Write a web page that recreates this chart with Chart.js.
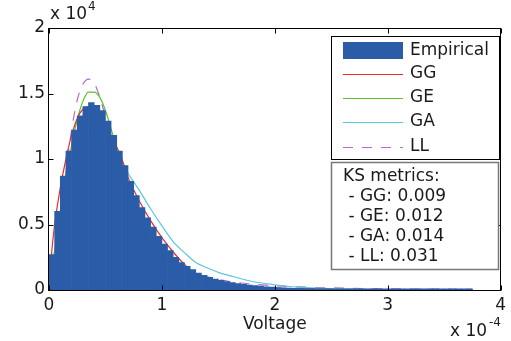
<!DOCTYPE html>
<html>
<head>
<meta charset="utf-8">
<script src="https://cdn.jsdelivr.net/npm/chart.js@4.4.1/dist/chart.umd.min.js"></script>
<style>
  html, body { margin: 0; padding: 0; background: #fff; }
  #chart { display: block; }
</style>
</head>
<body>
<canvas id="chart" width="511" height="341"></canvas>
<script>
// voltage in units of 1e-4, counts in units of 1e4
const binWidth = 0.05;
const histCounts = [
  0.27, 0.60, 0.87, 1.06, 1.22, 1.33, 1.40, 1.43, 1.41, 1.37,
  1.29, 1.18, 1.06, 0.95, 0.83, 0.72, 0.63, 0.55, 0.48, 0.41,
  0.35, 0.30, 0.25, 0.21, 0.18, 0.155, 0.13, 0.112, 0.097, 0.084,
  0.073, 0.064, 0.056, 0.049, 0.043, 0.038, 0.033, 0.029, 0.025, 0.022,
  0.019, 0.017, 0.015, 0.013, 0.012, 0.011, 0.010, 0.009, 0.009, 0.008,
  0.008, 0.008, 0.008, 0.008, 0.008, 0.008, 0.008, 0.008, 0.008, 0.008,
  0.008, 0.008, 0.008, 0.008, 0.008, 0.008, 0.008, 0.008, 0.008, 0.008,
  0.008, 0.008, 0.008, 0.008, 0.008
];

const fitX = [0, 0.025, 0.05, 0.1, 0.15, 0.2, 0.25, 0.3, 0.35, 0.4, 0.45, 0.5, 0.55, 0.6, 0.65, 0.7,
              0.8, 0.9, 1.0, 1.1, 1.2, 1.3, 1.4, 1.5, 1.6, 1.8, 2.0, 2.2, 2.5, 3.0, 3.75];
const ggFit = [0, 0.30, 0.50, 0.78, 1.00, 1.18, 1.31, 1.38, 1.40, 1.38, 1.33, 1.26, 1.18, 1.09, 0.99, 0.86,
               0.68, 0.53, 0.40, 0.29, 0.195, 0.125, 0.09, 0.065, 0.05, 0.025, 0.014, 0.008, 0.004, 0.001, 0];
const geFit = [0.12, 0.20, 0.30, 0.56, 0.88, 1.10, 1.30, 1.44, 1.51, 1.51, 1.47, 1.37, 1.23, 1.09, 0.97, 0.83,
               0.60, 0.42, 0.32, 0.23, 0.17, 0.12, 0.08, 0.06, 0.045, 0.025, 0.015, 0.010, 0.005, 0.002, 0];
const gaFit = [0, 0.10, 0.22, 0.45, 0.72, 0.92, 1.06, 1.16, 1.21, 1.22, 1.20, 1.16, 1.10, 1.03, 0.96, 0.89,
               0.76, 0.62, 0.49, 0.37, 0.285, 0.21, 0.17, 0.135, 0.11, 0.065, 0.04, 0.022, 0.01, 0.003, 0];
const llFit = [0, 0.05, 0.15, 0.50, 0.90, 1.22, 1.45, 1.57, 1.61, 1.58, 1.47, 1.32, 1.15, 1.00, 0.86, 0.73,
               0.52, 0.37, 0.27, 0.21, 0.16, 0.13, 0.10, 0.08, 0.065, 0.045, 0.033, 0.024, 0.016, 0.009, 0.005];

const seriesNames = ['Empirical', 'GG', 'GE', 'GA', 'LL'];
const ksNames = ['GG', 'GE', 'GA', 'LL'];
const ksValues = ['0.009', '0.012', '0.014', '0.031'];
const xTicks = [0, 1, 2, 3, 4];
const yTicks = [0, 0.5, 1, 1.5, 2];

const FONT = '"DejaVu Sans", sans-serif';
const TXT = '#1a1a1a';

const histData = histCounts.map((v, i) => ({ x: binWidth / 2 + i * binWidth, y: v }));
const fitData = arr => arr.map((v, i) => ({ x: fitX[i], y: v }));

function lineSet(label, values, color, dash) {
  return {
    type: 'line',
    label: label,
    data: fitData(values),
    borderColor: color,
    backgroundColor: color,
    borderWidth: 1.2,
    borderDash: dash || [],
    pointRadius: 0,
    cubicInterpolationMode: 'monotone',
    fill: false
  };
}

const framePlugin = {
  id: 'frame',
  afterDraw(chart) {
    const { ctx, chartArea: a, scales: { x, y } } = chart;
    ctx.save();
    ctx.strokeStyle = '#000';
    ctx.lineWidth = 1;
    const L = Math.round(a.left) - 0.5, R = Math.round(a.right) - 0.5;
    const T = Math.round(a.top) + 0.5, B = Math.round(a.bottom) + 0.5;
    ctx.strokeRect(L, T, R - L, B - T);
    ctx.beginPath();
    xTicks.forEach(t => {
      const px = Math.round(x.getPixelForValue(t)) + 0.5;
      ctx.moveTo(px, B); ctx.lineTo(px, B - 5);
      ctx.moveTo(px, T); ctx.lineTo(px, T + 5);
    });
    yTicks.forEach(t => {
      const py = Math.round(y.getPixelForValue(t)) + 0.5;
      ctx.moveTo(L, py); ctx.lineTo(L + 5, py);
      ctx.moveTo(R, py); ctx.lineTo(R - 5, py);
    });
    ctx.stroke();

    // exponent labels
    ctx.fillStyle = TXT;
    ctx.textBaseline = 'middle';
    ctx.textAlign = 'left';
    ctx.font = '17px ' + FONT;
    ctx.fillText('x 10', 50, 15);
    ctx.fillText('x 10', 450, 332);
    ctx.font = '12px ' + FONT;
    ctx.fillText('4', 88, 7);
    ctx.fillText('-4', 489, 323);

    // legend box
    const ds = chart.data.datasets;
    ctx.fillStyle = '#fff';
    ctx.fillRect(331, 36, 169, 123);
    ctx.strokeStyle = '#000';
    ctx.strokeRect(331.5, 36.5, 168, 123);
    const rows = [51, 74, 98, 122, 147];
    ds.forEach((d, i) => {
      const cy = rows[i];
      if (i === 0) {
        ctx.fillStyle = d.backgroundColor;
        ctx.fillRect(343, 42, 60, 17);
      } else {
        ctx.strokeStyle = d.borderColor;
        ctx.lineWidth = 1.2;
        ctx.setLineDash(d.borderDash);
        ctx.beginPath();
        ctx.moveTo(343, cy + 0.5);
        ctx.lineTo(403, cy + 0.5);
        ctx.stroke();
        ctx.setLineDash([]);
      }
      ctx.fillStyle = TXT;
      ctx.font = '17px ' + FONT;
      ctx.fillText(d.label, 410, cy);
    });

    // KS metrics box
    ctx.fillStyle = '#fff';
    ctx.fillRect(331, 162, 168, 108);
    ctx.strokeStyle = '#777';
    ctx.lineWidth = 1.5;
    ctx.strokeRect(331.5, 162.5, 167, 107);
    ctx.fillStyle = TXT;
    ctx.font = '17px ' + FONT;
    ctx.fillText('KS metrics:', 343, 177);
    ksNames.forEach((n, i) => {
      ctx.fillText(' - ' + n + ': ' + ksValues[i], 343, 197 + i * 20);
    });
    ctx.restore();
  }
};

const ctx = document.getElementById('chart').getContext('2d');
const chart = new Chart(ctx, {
  type: 'bar',
  data: {
    datasets: [
      {
        type: 'bar',
        label: seriesNames[0],
        data: histData,
        backgroundColor: '#2b5ca8',
        borderWidth: 0,
        barPercentage: 1,
        categoryPercentage: 1,
        grouped: false
      },
      lineSet(seriesNames[1], ggFit, '#f02a2a'),
      lineSet(seriesNames[2], geFit, '#5cbf2e'),
      lineSet(seriesNames[3], gaFit, '#5cc6dc'),
      lineSet(seriesNames[4], llFit, '#b56cc4', [10, 9])
    ]
  },
  options: {
    responsive: false,
    animation: false,
    devicePixelRatio: 1,
    layout: { padding: { left: 0, right: 6, top: 28, bottom: 0 } },
    plugins: {
      legend: { display: false },
      tooltip: { enabled: false }
    },
    scales: {
      x: {
        type: 'linear',
        min: 0,
        max: 4,
        offset: false,
        afterFit: s => { s.height = 51; },
        afterBuildTicks: s => { s.ticks = xTicks.map(v => ({ value: v })); },
        grid: { display: false, drawTicks: false },
        border: { display: false },
        ticks: { padding: 5, color: TXT, font: { family: FONT, size: 17 }, maxRotation: 0, callback: v => String(v) },
        title: { display: true, text: 'Voltage', color: TXT, font: { family: FONT, size: 17 }, padding: { top: 0, bottom: 6 } }
      },
      y: {
        min: 0,
        max: 2,
        afterFit: s => { s.width = 49; },
        afterBuildTicks: s => { s.ticks = yTicks.map(v => ({ value: v })); },
        grid: { display: false, drawTicks: false },
        border: { display: false },
        ticks: { padding: 4, color: TXT, font: { family: FONT, size: 17 }, callback: v => String(v) }
      }
    }
  },
  plugins: [framePlugin]
});
</script>
</body>
</html>
